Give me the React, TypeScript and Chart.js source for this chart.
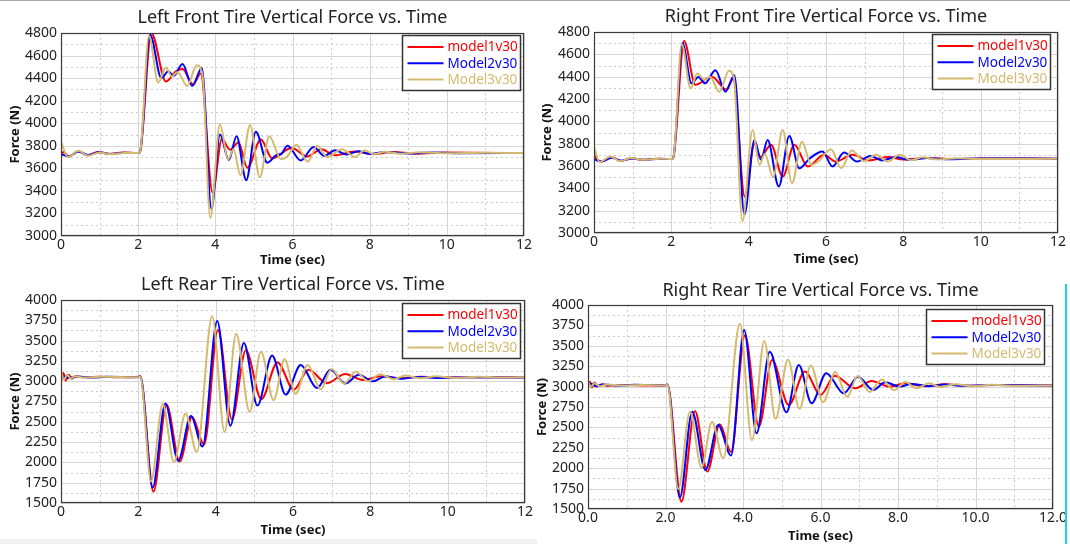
import React, { useEffect, useRef } from 'react';
import { Chart, registerables } from 'chart.js';

Chart.register(...registerables);

type Pair = [number, number];

const SERIES_NAMES = ['model1v30', 'Model2v30', 'Model3v30'];
const SERIES_COLORS = ['#ff0000', '#0000ff', '#d4ba6e'];

const X_TICKS = [0, 2, 4, 6, 8, 10, 12];
const X_MINOR = [1, 3, 5, 7, 9, 11];
const FRONT_Y_TICKS = [3000, 3200, 3400, 3600, 3800, 4000, 4200, 4400, 4600, 4800];
const FRONT_Y_MINOR = [3100, 3300, 3500, 3700, 3900, 4100, 4300, 4500, 4700];
const REAR_Y_TICKS = [1500, 1750, 2000, 2250, 2500, 2750, 3000, 3250, 3500, 3750, 4000];
const REAR_Y_MINOR = [1625, 1875, 2125, 2375, 2625, 2875, 3125, 3375, 3625, 3875];

// ---------- Left Front ----------
const lfModel1: Pair[] = [
  [0, 3718], [0.06, 3745], [0.2, 3705], [0.45, 3752], [0.68, 3715], [0.95, 3745], [1.25, 3728], [1.6, 3740],
  [2.0, 3735], [2.05, 3748], [2.34, 4800], [2.72, 4370], [2.98, 4460], [3.15, 4480], [3.42, 4345], [3.62, 4440],
  [3.93, 3385], [4.17, 3860], [4.38, 3765], [4.6, 3830], [4.83, 3605], [5.18, 3855], [5.47, 3690], [5.98, 3780],
  [6.38, 3705], [6.75, 3770], [7.1, 3715], [7.6, 3750], [8.1, 3725], [8.6, 3745], [9.2, 3730], [10, 3740], [12, 3735],
];
const lfModel2: Pair[] = [
  [0, 3725], [0.2, 3705], [0.45, 3750], [0.7, 3718], [1.0, 3742], [1.3, 3728], [1.65, 3738], [2.0, 3735],
  [2.05, 3748], [2.31, 4785], [2.6, 4400], [2.78, 4460], [2.92, 4420], [3.15, 4525], [3.4, 4330], [3.65, 4490],
  [3.9, 3240], [4.12, 3900], [4.35, 3675], [4.55, 3885], [4.8, 3495], [5.05, 3925], [5.35, 3650], [5.6, 3720],
  [5.7, 3725], [5.87, 3800], [6.21, 3670], [6.55, 3790], [6.82, 3710], [7.1, 3760], [7.4, 3722], [7.7, 3752],
  [8.0, 3728], [8.4, 3745], [9.0, 3732], [9.6, 3740], [10.5, 3734], [12, 3737],
];
const lfModel3: Pair[] = [
  [0, 3835], [0.18, 3700], [0.45, 3755], [0.7, 3712], [1.0, 3740], [1.3, 3725], [1.65, 3737], [2.0, 3735],
  [2.05, 3748], [2.28, 4775], [2.52, 4360], [2.72, 4495], [2.87, 4415], [3.02, 4455], [3.27, 4330], [3.52, 4515],
  [3.67, 4420], [3.87, 3160], [4.12, 3990], [4.33, 3680], [4.47, 3770], [4.65, 3540], [4.9, 3985], [5.15, 3520],
  [5.4, 3885], [5.7, 3680], [5.85, 3700], [6.1, 3810], [6.39, 3658], [6.64, 3800], [6.9, 3700], [7.28, 3770],
  [7.62, 3700], [7.87, 3760], [8.1, 3725], [8.4, 3748], [8.8, 3730], [9.3, 3742], [10, 3733], [11, 3738], [12, 3735],
];

// ---------- Right Front ----------
const rfModel1: Pair[] = [
  [0, 3700], [0.08, 3660], [0.2, 3640], [0.45, 3680], [0.7, 3645], [0.95, 3670], [1.25, 3655], [1.6, 3665],
  [2.0, 3662], [2.05, 3675], [2.33, 4720], [2.62, 4328], [3.05, 4400], [3.42, 4285], [3.6, 4380], [3.9, 3325],
  [4.15, 3800], [4.3, 3680], [4.58, 3790], [4.88, 3505], [5.18, 3790], [5.53, 3595], [5.95, 3700], [6.25, 3640],
  [6.69, 3700], [7.1, 3650], [7.6, 3680], [8.0, 3658], [8.6, 3672], [9.3, 3662], [10, 3668], [12, 3665],
];
const rfModel2: Pair[] = [
  [0, 3660], [0.2, 3640], [0.45, 3675], [0.7, 3648], [1.0, 3668], [1.3, 3655], [1.7, 3665], [2.0, 3662],
  [2.05, 3672], [2.29, 4700], [2.52, 4340], [2.7, 4398], [2.87, 4340], [3.14, 4458], [3.4, 4265], [3.63, 4413],
  [3.89, 3165], [4.15, 3833], [4.32, 3655], [4.49, 3833], [4.78, 3417], [5.05, 3869], [5.31, 3580], [5.57, 3665],
  [5.91, 3729], [6.17, 3595], [6.47, 3720], [6.8, 3640], [7.15, 3690], [7.45, 3650], [7.8, 3680], [8.15, 3655],
  [8.6, 3672], [9.2, 3660], [10, 3668], [12, 3665],
];
const rfModel3: Pair[] = [
  [0, 3770], [0.15, 3635], [0.42, 3685], [0.68, 3642], [0.95, 3672], [1.3, 3655], [1.7, 3666], [2.0, 3662],
  [2.05, 3672], [2.27, 4690], [2.5, 4294], [2.67, 4428], [2.87, 4369], [3.0, 4400], [3.24, 4265], [3.49, 4452],
  [3.62, 4380], [3.84, 3104], [4.1, 3922], [4.28, 3610], [4.42, 3710], [4.63, 3500], [4.88, 3922], [5.12, 3446],
  [5.38, 3818], [5.62, 3610], [5.8, 3640], [6.13, 3750], [6.39, 3580], [6.67, 3738], [6.98, 3645], [7.3, 3700],
  [7.6, 3640], [7.9, 3700], [8.2, 3652], [8.5, 3678], [8.9, 3658], [9.4, 3670], [10, 3662], [12, 3665],
];

// ---------- Left Rear ----------
const lrModel1: Pair[] = [
  [0, 3000], [0.06, 3100], [0.12, 3010], [0.2, 3080], [0.28, 3030], [0.38, 3060], [0.6, 3048], [1.0, 3055],
  [1.5, 3048], [2.0, 3055], [2.05, 3060], [2.39, 1640], [2.73, 2710], [3.07, 2010], [3.39, 2560], [3.7, 2220],
  [4.06, 3630], [4.42, 2530], [4.78, 3380], [5.18, 2780], [5.6, 3230], [6.02, 2895], [6.4, 3140], [6.88, 2975],
  [7.35, 3090], [7.8, 3015], [8.28, 3060], [8.8, 3035], [9.3, 3055], [10, 3045], [11, 3050], [12, 3048],
];
const lrModel2: Pair[] = [
  [0, 3030], [0.1, 3060], [0.2, 3040], [0.4, 3058], [0.8, 3045], [1.2, 3055], [2.0, 3050], [2.05, 3058],
  [2.37, 1690], [2.7, 2725], [3.03, 2020], [3.36, 2570], [3.66, 2195], [4.04, 3740], [4.38, 2450], [4.73, 3470],
  [5.08, 2700], [5.46, 3315], [5.81, 2835], [6.2, 3200], [6.62, 2915], [6.97, 3140], [7.35, 2972], [7.7, 3078],
  [8.07, 2998], [8.38, 3058], [8.8, 3030], [9.2, 3052], [9.8, 3040], [10.5, 3050], [12, 3045],
];
const lrModel3: Pair[] = [
  [0, 3120], [0.08, 3020], [0.16, 3080], [0.25, 3030], [0.35, 3060], [0.6, 3045], [1.0, 3055], [2.0, 3050],
  [2.05, 3055], [2.33, 1765], [2.63, 2720], [2.92, 2005], [3.22, 2600], [3.51, 2130], [3.91, 3800], [4.23, 2375],
  [4.53, 3585], [4.88, 2620], [5.17, 3362], [5.5, 2765], [5.78, 3270], [6.07, 2845], [6.38, 3200], [6.72, 2900],
  [7.0, 3150], [7.32, 2970], [7.62, 3115], [7.95, 3000], [8.25, 3085], [8.6, 3025], [8.9, 3070], [9.3, 3035],
  [9.7, 3060], [10.2, 3040], [10.8, 3055], [11.5, 3045], [12, 3050],
];

// ---------- Right Rear ----------
const rrModel1: Pair[] = [
  [0, 3000], [0.05, 3060], [0.1, 2990], [0.17, 3050], [0.25, 3000], [0.35, 3030], [0.5, 3010], [1.0, 3020],
  [1.5, 3012], [2.0, 3018], [2.05, 3025], [2.41, 1590], [2.76, 2700], [3.08, 1960], [3.4, 2540], [3.69, 2200],
  [4.05, 3630], [4.41, 2510], [4.75, 3325], [5.18, 2775], [5.6, 3185], [6.0, 2897], [6.37, 3134], [6.89, 2979],
  [7.32, 3069], [7.79, 3000], [8.18, 3040], [8.7, 3005], [9.2, 3028], [9.8, 3010], [10.5, 3020], [12, 3015],
];
const rrModel2: Pair[] = [
  [0, 3020], [0.1, 3035], [0.2, 3005], [0.4, 3025], [0.8, 3012], [1.2, 3022], [2.0, 3015], [2.05, 3025],
  [2.37, 1640], [2.69, 2693], [3.03, 1978], [3.36, 2530], [3.69, 2155], [4.03, 3695], [4.35, 2427], [4.69, 3428],
  [5.12, 2685], [5.44, 3265], [5.77, 2795], [6.15, 3163], [6.6, 2917], [6.97, 3122], [7.36, 2958], [7.67, 3052],
  [8.05, 3000], [8.35, 3032], [8.8, 3005], [9.2, 3025], [9.7, 3010], [10.3, 3020], [12, 3015],
];
const rrModel3: Pair[] = [
  [0, 3060], [0.08, 3000], [0.16, 3040], [0.3, 3005], [0.5, 3025], [0.9, 3012], [1.4, 3020], [2.0, 3015],
  [2.05, 3025], [2.33, 1745], [2.63, 2693], [2.93, 2006], [3.2, 2570], [3.49, 2121], [3.92, 3770], [4.23, 2343],
  [4.55, 3558], [4.84, 2605], [5.16, 3333], [5.46, 2728], [5.75, 3260], [6.07, 2810], [6.38, 3178], [6.69, 2875],
  [6.96, 3129], [7.27, 2933], [7.58, 3088], [7.9, 2957], [8.19, 3055], [8.47, 2980], [8.8, 3040], [9.1, 2995],
  [9.5, 3030], [9.9, 3005], [10.4, 3022], [11, 3010], [12, 3015],
];

interface Panel {
  key: string;
  title: string;
  box: { left: number; top: number; width: number; height: number };
  area: { l: number; r: number; t: number; b: number };
  yTicks: number[];
  yMinor: number[];
  series: Pair[][];
  legendInset: { right: number; top: number };
  xDecimals: number;
  titleBaseline: number;
  xTitleY: number;
  yTitleX: number;
}

const PANELS: Panel[] = [
  {
    key: 'lf', title: 'Left Front Tire Vertical Force vs. Time',
    box: { left: 0, top: 0, width: 537, height: 268 },
    area: { l: 61, r: 524, t: 33, b: 236 },
    yTicks: FRONT_Y_TICKS, yMinor: FRONT_Y_MINOR,
    series: [lfModel1, lfModel2, lfModel3],
    legendInset: { right: 4, top: 2 }, xDecimals: 0,
    titleBaseline: 23, xTitleY: 260.5, yTitleX: 15,
  },
  {
    key: 'rf', title: 'Right Front Tire Vertical Force vs. Time',
    box: { left: 537, top: 0, width: 533, height: 268 },
    area: { l: 57, r: 521, t: 32, b: 233 },
    yTicks: FRONT_Y_TICKS, yMinor: FRONT_Y_MINOR,
    series: [rfModel1, rfModel2, rfModel3],
    legendInset: { right: 8, top: 2 }, xDecimals: 0,
    titleBaseline: 21.5, xTitleY: 259.5, yTitleX: 10,
  },
  {
    key: 'lr', title: 'Left Rear Tire Vertical Force vs. Time',
    box: { left: 0, top: 268, width: 537, height: 276 },
    area: { l: 61, r: 525, t: 32, b: 235 },
    yTicks: REAR_Y_TICKS, yMinor: REAR_Y_MINOR,
    series: [lrModel1, lrModel2, lrModel3],
    legendInset: { right: 5, top: 3 }, xDecimals: 0,
    titleBaseline: 22, xTitleY: 262, yTitleX: 15,
  },
  {
    key: 'rr', title: 'Right Rear Tire Vertical Force vs. Time',
    box: { left: 528, top: 272, width: 542, height: 272 },
    area: { l: 60, r: 525, t: 33, b: 237 },
    yTicks: REAR_Y_TICKS, yMinor: REAR_Y_MINOR,
    series: [rrModel1, rrModel2, rrModel3],
    legendInset: { right: 9, top: 4 }, xDecimals: 1,
    titleBaseline: 24, xTitleY: 264, yTitleX: 14,
  },
];

const FONT = '"Noto Sans", "Open Sans", sans-serif';
const LEG_W = 118;
const LEG_H = 55;

function decorPlugin(p: Panel) {
  return {
    id: 'decor_' + p.key,
    beforeDatasetsDraw(chart: any) {
      const { ctx, chartArea: a, scales } = chart;
      const xs = scales.x;
      const ys = scales.y;
      ctx.save();
      ctx.fillStyle = '#ffffff';
      ctx.fillRect(a.left, a.top, a.right - a.left, a.bottom - a.top);
      ctx.lineWidth = 1;
      ctx.setLineDash([2, 3]);
      ctx.strokeStyle = '#cccccc';
      for (const v of X_MINOR) {
        const x = Math.round(xs.getPixelForValue(v)) + 0.5;
        ctx.beginPath(); ctx.moveTo(x, a.top); ctx.lineTo(x, a.bottom); ctx.stroke();
      }
      for (const v of p.yMinor) {
        const y = Math.round(ys.getPixelForValue(v)) + 0.5;
        ctx.beginPath(); ctx.moveTo(a.left, y); ctx.lineTo(a.right, y); ctx.stroke();
      }
      ctx.setLineDash([]);
      ctx.strokeStyle = '#d6d6d6';
      for (const v of X_TICKS) {
        const x = Math.round(xs.getPixelForValue(v)) + 0.5;
        ctx.beginPath(); ctx.moveTo(x, a.top); ctx.lineTo(x, a.bottom); ctx.stroke();
      }
      for (const v of p.yTicks) {
        const y = Math.round(ys.getPixelForValue(v)) + 0.5;
        ctx.beginPath(); ctx.moveTo(a.left, y); ctx.lineTo(a.right, y); ctx.stroke();
      }
      ctx.restore();
    },
    afterDatasetsDraw(chart: any) {
      const { ctx, chartArea: a } = chart;
      ctx.save();
      // frame
      ctx.strokeStyle = '#3a3a3a';
      ctx.lineWidth = 1.2;
      ctx.strokeRect(Math.round(a.left) + 0.5, Math.round(a.top) + 0.5,
        Math.round(a.right - a.left) - 1, Math.round(a.bottom - a.top) - 1);
      // legend
      const lx = Math.round(a.right - p.legendInset.right - LEG_W) + 0.5;
      const ly = Math.round(a.top + p.legendInset.top) + 0.5;
      ctx.fillStyle = '#ffffff';
      ctx.fillRect(lx, ly, LEG_W, LEG_H);
      ctx.strokeStyle = '#333333';
      ctx.lineWidth = 1.5;
      ctx.strokeRect(lx, ly, LEG_W, LEG_H);
      ctx.font = '13.5px ' + FONT;
      ctx.textBaseline = 'middle';
      ctx.textAlign = 'left';
      SERIES_NAMES.forEach((name, i) => {
        const y = ly + 11.5 + i * 16.3;
        ctx.strokeStyle = SERIES_COLORS[i];
        ctx.lineWidth = 2;
        ctx.beginPath(); ctx.moveTo(lx + 5, y); ctx.lineTo(lx + 41, y); ctx.stroke();
        ctx.fillStyle = SERIES_COLORS[i];
        ctx.fillText(name, lx + 45, y + 0.5);
      });
      ctx.restore();
    },
    afterDraw(chart: any) {
      const { ctx, chartArea: a } = chart;
      const cx = (a.left + a.right) / 2;
      const cy = (a.top + a.bottom) / 2;
      ctx.save();
      ctx.fillStyle = '#222222';
      ctx.font = '18px ' + FONT;
      ctx.textAlign = 'center';
      ctx.textBaseline = 'alphabetic';
      ctx.fillText(p.title, cx, p.titleBaseline);
      ctx.fillStyle = '#111111';
      ctx.font = 'bold 13px ' + FONT;
      ctx.textBaseline = 'middle';
      ctx.fillText('Time (sec)', cx, p.xTitleY);
      ctx.translate(p.yTitleX, cy);
      ctx.rotate(-Math.PI / 2);
      ctx.fillText('Force (N)', 0, 0);
      ctx.restore();
    },
  };
}

function ChartPanel({ p }: { p: Panel }) {
  const ref = useRef<HTMLCanvasElement>(null);
  useEffect(() => {
    const canvas = ref.current;
    if (!canvas) return;
    const chart = new Chart(canvas, {
      type: 'line',
      data: {
        datasets: p.series.map((s, i) => ({
          label: SERIES_NAMES[i],
          data: s.map(([x, y]) => ({ x, y })),
          borderColor: SERIES_COLORS[i],
          backgroundColor: SERIES_COLORS[i],
          borderWidth: 2,
          pointRadius: 0,
          fill: false,
          cubicInterpolationMode: 'monotone' as const,
          order: 3 - i,
        })),
      },
      options: {
        responsive: false,
        animation: false,
        devicePixelRatio: 1,
        events: [],
        layout: { padding: { left: 0, top: p.area.t, right: p.box.width - p.area.r, bottom: 0 } },
        plugins: { legend: { display: false }, tooltip: { enabled: false }, title: { display: false } },
        scales: {
          x: {
            type: 'linear',
            min: 0,
            max: 12,
            afterBuildTicks: (s: any) => { s.ticks = X_TICKS.map((v) => ({ value: v })); },
            afterFit: (s: any) => { s.height = p.box.height - p.area.b; },
            grid: { display: false, drawTicks: false },
            border: { display: false },
            ticks: {
              autoSkip: false,
              maxRotation: 0,
              padding: 1,
              color: '#222222',
              font: { family: FONT, size: 14 },
              callback: (v: any) => Number(v).toFixed(p.xDecimals),
            },
          },
          y: {
            type: 'linear',
            min: p.yTicks[0],
            max: p.yTicks[p.yTicks.length - 1],
            afterBuildTicks: (s: any) => { s.ticks = p.yTicks.map((v) => ({ value: v })); },
            afterFit: (s: any) => { s.width = p.area.l; },
            grid: { display: false, drawTicks: false },
            border: { display: false },
            ticks: {
              autoSkip: false,
              padding: 4,
              color: '#222222',
              font: { family: FONT, size: 14 },
              callback: (v: any) => String(v),
            },
          },
        },
      } as any,
      plugins: [decorPlugin(p)],
    });
    return () => chart.destroy();
  }, [p]);
  return (
    <canvas
      ref={ref}
      width={p.box.width}
      height={p.box.height}
      style={{ position: 'absolute', left: p.box.left, top: p.box.top, width: p.box.width, height: p.box.height }}
    />
  );
}

export default function App() {
  return (
    <div style={{ position: 'fixed', left: 0, top: 0, width: 1070, height: 544, background: '#ffffff', overflow: 'hidden' }}>
      <div style={{ position: 'absolute', left: 0, top: 0, width: 1070, height: 1, background: '#a8a8a8' }} />
      <div style={{ position: 'absolute', left: 0, top: 539, width: 537, height: 5, background: '#f0f0f0' }} />
      {PANELS.map((p) => (
        <ChartPanel key={p.key} p={p} />
      ))}
      <div style={{ position: 'absolute', left: 1065, top: 284, width: 2, height: 260, background: '#19d3ee' }} />
    </div>
  );
}
